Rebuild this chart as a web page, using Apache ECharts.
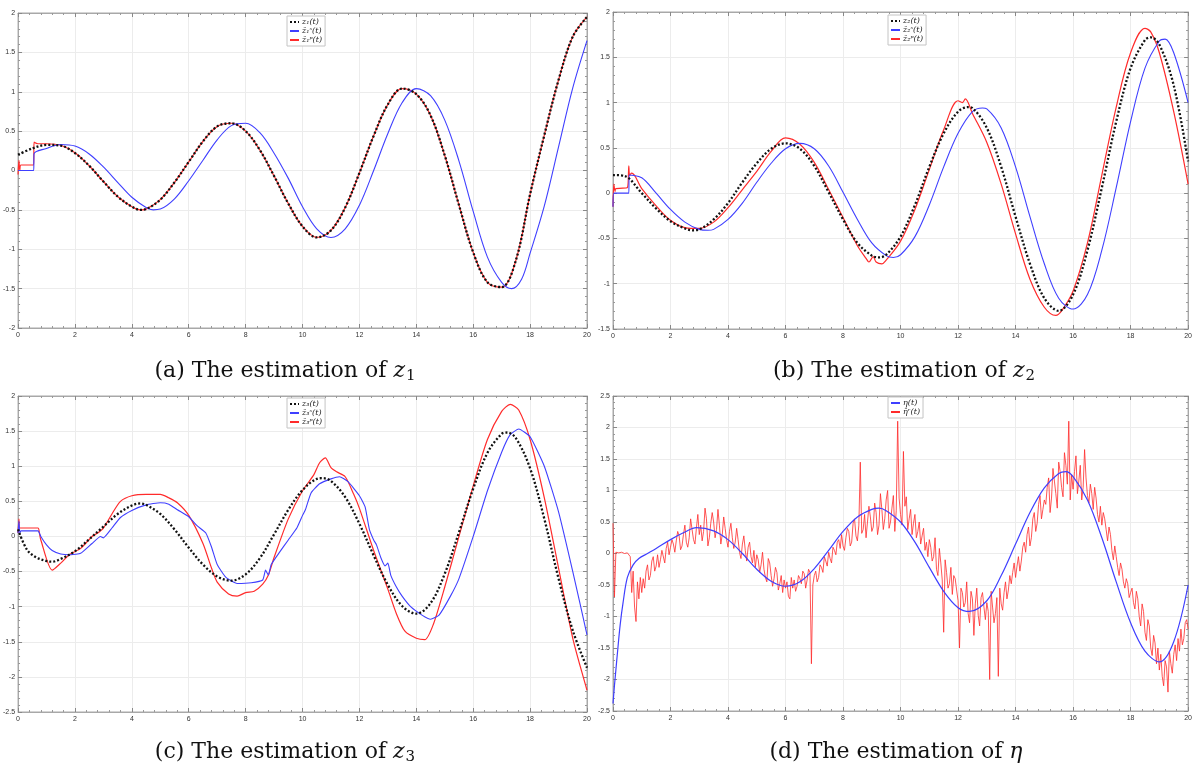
<!DOCTYPE html>
<html>
<head>
<meta charset="utf-8">
<script src="https://cdn.jsdelivr.net/npm/echarts@6/dist/echarts.min.js"></script>
<style>
  html, body { margin: 0; padding: 0; background: #fff; }
  #chart { width: 1195px; height: 764px; }
</style>
</head>
<body>
<div id="chart"></div>
<script>
// ---- (a) z1 and its two estimates: [t, value] ----
const z1 = [[0,0.2],[0.5,0.28],[1,0.325],[1.5,0.316],[2,0.222],[2.5,0.06],[3,-0.14],[3.5,-0.33],[4,-0.46],[4.3,-0.5],[4.5,-0.49],[5,-0.37],[5.5,-0.15],[6,0.11],[6.5,0.37],[7,0.56],[7.5,0.6],[8,0.5],[8.5,0.26],[9,-0.07],[9.5,-0.42],[10,-0.71],[10.5,-0.85],[11,-0.76],[11.5,-0.47],[12,-0.03],[12.5,0.44],[13,0.84],[13.5,1.04],[14,0.97],[14.5,0.7],[15,0.19],[15.5,-0.44],[16,-1.04],[16.5,-1.42],[17,-1.48],[17.5,-1.14],[18,-0.3],[18.5,0.45],[19,1.15],[19.5,1.7],[20,1.95]];
const z1EstS = [[0,0],[0.55,0],[0.56,0.21],[1,0.28],[1.5,0.33],[2,0.31],[2.5,0.21],[3,0.045],[3.5,-0.15],[4,-0.34],[4.5,-0.47],[4.75,-0.5],[5,-0.49],[5.5,-0.36],[6,-0.13],[6.5,0.13],[7,0.39],[7.5,0.57],[8,0.6],[8.5,0.48],[9,0.22],[9.5,-0.1],[10,-0.46],[10.5,-0.74],[11,-0.85],[11.5,-0.74],[12,-0.44],[12.5,0.0],[13,0.47],[13.5,0.86],[14,1.04],[14.5,0.95],[15,0.64],[15.5,0.12],[16,-0.52],[16.5,-1.1],[17,-1.42],[17.35,-1.5],[17.7,-1.38],[18,-1.05],[18.5,-0.45],[19,0.3],[19.5,1.05],[20,1.65]];
const z1EstP = [[0,-0.05],[0.03,0.13],[0.06,0.0],[0.1,0.07],[0.55,0.07],[0.56,0.36],[0.7,0.34],[1,0.34],[1.5,0.32],[2,0.225],[2.5,0.06],[3,-0.14],[3.5,-0.33],[4,-0.46],[4.3,-0.5],[4.5,-0.49],[5,-0.37],[5.5,-0.15],[6,0.11],[6.5,0.37],[7,0.56],[7.5,0.6],[8,0.5],[8.5,0.26],[9,-0.07],[9.5,-0.42],[10,-0.71],[10.5,-0.85],[11,-0.76],[11.5,-0.47],[12,-0.03],[12.5,0.44],[13,0.84],[13.5,1.04],[14,0.97],[14.5,0.7],[15,0.19],[15.5,-0.44],[16,-1.04],[16.5,-1.42],[17,-1.48],[17.5,-1.14],[18,-0.3],[18.5,0.45],[19,1.15],[19.5,1.7],[20,1.95]];

// ---- (b) z2 ----
const z2 = [[0,0.2],[0.4,0.19],[1,0.0],[1.5,-0.17],[2,-0.31],[2.5,-0.39],[2.75,-0.41],[3,-0.40],[3.5,-0.29],[4,-0.11],[4.5,0.12],[5,0.33],[5.5,0.49],[6,0.55],[6.5,0.49],[7,0.3],[7.5,0.01],[8,-0.29],[8.5,-0.55],[9,-0.69],[9.25,-0.71],[9.5,-0.68],[10,-0.48],[10.5,-0.13],[11,0.29],[11.5,0.66],[12,0.9],[12.35,0.95],[12.5,0.94],[13,0.72],[13.5,0.29],[14,-0.26],[14.5,-0.78],[15,-1.16],[15.5,-1.3],[16,-1.12],[16.5,-0.63],[17,0.06],[17.5,0.79],[18,1.38],[18.5,1.69],[18.7,1.72],[19,1.64],[19.5,1.19],[20,0.35]];
const z2EstS = [[0,-0.15],[0.03,0],[0.55,0],[0.56,0.2],[1,0.17],[1.5,0.0],[2,-0.18],[2.5,-0.32],[3,-0.40],[3.3,-0.41],[3.5,-0.40],[4,-0.29],[4.5,-0.11],[5,0.12],[5.5,0.33],[6,0.49],[6.5,0.55],[7,0.49],[7.5,0.3],[8,0.01],[8.5,-0.29],[9,-0.55],[9.5,-0.69],[9.75,-0.71],[10,-0.68],[10.5,-0.48],[11,-0.13],[11.5,0.29],[12,0.66],[12.5,0.9],[12.85,0.94],[13,0.93],[13.5,0.72],[14,0.29],[14.5,-0.26],[15,-0.78],[15.5,-1.16],[16,-1.28],[16.5,-1.12],[17,-0.63],[17.5,0.06],[18,0.79],[18.5,1.38],[19,1.68],[19.2,1.7],[19.5,1.55],[20,1.0]];
const z2EstP = [[0,-0.15],[0.03,0.1],[0.07,0.02],[0.1,0.05],[0.5,0.06],[0.55,0.3],[0.58,0.2],[0.65,0.22],[1,0.05],[1.5,-0.14],[2,-0.3],[2.5,-0.38],[3,-0.39],[3.5,-0.32],[4,-0.16],[4.5,0.04],[5,0.24],[5.5,0.46],[6,0.61],[6.5,0.54],[7,0.34],[7.5,0.04],[8,-0.27],[8.5,-0.58],[8.8,-0.72],[8.9,-0.76],[9.05,-0.7],[9.15,-0.76],[9.35,-0.78],[9.5,-0.74],[10,-0.53],[10.5,-0.18],[11,0.26],[11.5,0.7],[12,1.02],[12.15,1.0],[12.25,1.04],[12.5,0.88],[13,0.56],[13.5,0.1],[14,-0.45],[14.5,-0.95],[15,-1.26],[15.4,-1.35],[15.6,-1.3],[16,-1.08],[16.5,-0.55],[17,0.2],[17.5,0.95],[18,1.55],[18.5,1.82],[18.7,1.78],[19,1.55],[19.5,0.9],[20,0.1]];

// ---- (c) z3 ----
const z3 = [[0,0.1],[0.3,-0.18],[0.6,-0.29],[1,-0.35],[1.2,-0.36],[1.5,-0.32],[2,-0.21],[2.5,-0.04],[3,0.14],[3.5,0.32],[4,0.44],[4.3,0.47],[4.5,0.45],[5,0.32],[5.5,0.1],[6,-0.16],[6.5,-0.4],[7,-0.57],[7.5,-0.63],[8,-0.54],[8.5,-0.31],[9,0.03],[9.5,0.38],[10,0.66],[10.5,0.82],[10.7,0.83],[11,0.79],[11.5,0.56],[12,0.18],[12.5,-0.27],[13,-0.69],[13.5,-0.99],[14,-1.1],[14.5,-0.95],[15,-0.53],[15.5,0.06],[16,0.68],[16.5,1.19],[17,1.46],[17.2,1.48],[17.5,1.4],[18,0.97],[18.5,0.25],[19,-0.6],[19.5,-1.34],[20,-1.87]];
const z3EstS = [[0,0.05],[0.03,0.22],[0.06,0.05],[0.1,0.08],[0.7,0.08],[0.8,0.0],[1.0,-0.12],[1.2,-0.2],[1.5,-0.25],[1.86,-0.26],[2.2,-0.24],[2.6,-0.1],[2.9,0.0],[3.0,-0.02],[3.3,0.12],[3.6,0.27],[4,0.37],[4.5,0.45],[5,0.48],[5.3,0.46],[5.6,0.38],[6,0.28],[6.3,0.15],[6.6,0.05],[6.8,-0.15],[7.0,-0.4],[7.3,-0.58],[7.7,-0.67],[8.2,-0.66],[8.6,-0.62],[8.7,-0.48],[8.8,-0.55],[8.9,-0.4],[9.2,-0.22],[9.5,-0.05],[9.8,0.12],[10.0,0.3],[10.1,0.38],[10.3,0.62],[10.6,0.75],[11.0,0.82],[11.3,0.85],[11.6,0.78],[12.0,0.58],[12.2,0.42],[12.35,0.1],[12.5,-0.05],[12.6,-0.12],[12.75,-0.3],[12.9,-0.42],[13.0,-0.38],[13.1,-0.55],[13.3,-0.72],[13.5,-0.85],[13.8,-1.0],[14.2,-1.12],[14.5,-1.18],[14.8,-1.12],[15.2,-0.85],[15.5,-0.6],[16,0.0],[16.5,0.65],[17,1.2],[17.3,1.45],[17.6,1.53],[18,1.42],[18.5,1.0],[19,0.35],[19.5,-0.5],[20,-1.4]];
const z3EstP = [[0,0.05],[0.03,0.25],[0.06,0.12],[0.7,0.12],[0.75,0.05],[0.8,-0.05],[1.2,-0.48],[1.5,-0.38],[1.8,-0.26],[2.2,-0.17],[2.6,0.0],[2.8,0.05],[3.0,0.12],[3.3,0.32],[3.6,0.5],[4,0.58],[4.5,0.6],[5,0.6],[5.3,0.55],[5.6,0.48],[6,0.3],[6.5,-0.1],[6.8,-0.45],[7.0,-0.65],[7.4,-0.82],[7.7,-0.85],[8.0,-0.8],[8.3,-0.78],[8.6,-0.68],[8.8,-0.55],[9.0,-0.3],[9.5,0.25],[10,0.65],[10.4,0.88],[10.6,1.05],[10.8,1.12],[11.0,0.98],[11.2,0.92],[11.5,0.85],[11.8,0.6],[12,0.4],[12.5,-0.2],[13,-0.75],[13.3,-1.1],[13.6,-1.35],[14,-1.45],[14.3,-1.47],[14.6,-1.25],[15,-0.72],[15.5,0.0],[16,0.72],[16.5,1.38],[17,1.78],[17.3,1.88],[17.6,1.8],[18,1.38],[18.5,0.55],[19,-0.45],[19.5,-1.45],[20,-2.19]];

// ---- (d) eta and its noisy estimate ----
const eta = [[0,-2.38],[0.05,-2.1],[0.1,-1.85],[0.15,-1.6],[0.25,-1.13],[0.35,-0.78],[0.5,-0.38],[0.7,-0.18],[0.9,-0.08],[1.2,0.0],[1.5,0.08],[2,0.22],[2.5,0.34],[2.9,0.41],[3.5,0.36],[4,0.22],[4.5,0.0],[5,-0.25],[5.5,-0.44],[6,-0.52],[6.5,-0.45],[7,-0.24],[7.5,0.05],[8,0.35],[8.5,0.58],[9,0.7],[9.25,0.72],[9.5,0.68],[10,0.5],[10.5,0.18],[11,-0.22],[11.5,-0.6],[12,-0.86],[12.4,-0.92],[13,-0.75],[13.5,-0.35],[14,0.15],[14.5,0.65],[15,1.04],[15.5,1.27],[15.75,1.3],[16,1.22],[16.5,0.85],[17,0.25],[17.5,-0.45],[18,-1.1],[18.5,-1.55],[19,-1.72],[19.5,-1.4],[20,-0.5]];
const etaHatStep = 0.05;
const etaHat = [
  0.48,-0.69,0.02,0.00,0.01,0.00,0.02,0.01,0.00,0.02,0.01,0.02,-0.05,-0.62,-0.28,-0.85,-1.08,-0.45,-0.72,-0.38,
  -0.62,-0.40,-0.55,-0.28,-0.18,-0.42,-0.35,-0.12,-0.05,-0.28,-0.20,-0.02,-0.22,-0.10,0.05,0.02,-0.15,0.08,0.18,-0.02,
  0.10,0.22,0.15,0.02,0.20,0.35,0.28,0.06,0.12,0.30,0.45,0.18,0.10,0.25,0.55,0.38,0.22,0.15,0.40,0.62,
  0.30,0.45,0.20,0.35,0.72,0.55,0.12,0.25,0.48,0.65,0.50,0.25,0.38,0.70,0.45,0.15,0.30,0.58,0.40,0.22,
  0.10,0.35,0.48,0.25,0.08,0.18,0.40,0.22,0.02,-0.08,0.15,0.28,0.05,-0.12,0.10,0.18,-0.05,-0.15,0.05,-0.22,
  -0.02,-0.10,-0.30,-0.18,0.02,-0.25,-0.38,-0.45,-0.08,-0.15,-0.35,-0.52,-0.40,-0.22,-0.30,-0.58,-0.48,-0.35,-0.62,-0.42,
  -0.55,-0.45,-0.68,-0.72,-0.38,-0.55,-0.42,-0.60,-0.52,-0.35,-0.40,-0.48,-0.28,-0.32,-0.55,-0.42,-0.25,-0.30,-1.75,-0.50,
  -0.35,-0.28,-0.45,-0.38,-0.18,-0.22,-0.30,-0.05,-0.12,-0.20,0.02,-0.08,-0.15,0.10,0.05,-0.02,0.18,0.22,0.08,0.30,
  0.12,0.05,0.25,0.40,0.35,0.12,0.18,0.48,0.55,0.28,0.20,0.45,1.45,0.32,0.38,0.62,0.25,0.50,0.75,0.58,
  0.35,0.42,0.80,0.65,0.30,0.45,0.95,0.70,0.38,0.55,0.85,1.00,0.40,0.50,0.72,0.92,0.35,0.68,2.10,0.88,
  0.62,0.45,1.62,0.75,0.90,0.38,0.55,0.70,0.30,0.48,0.62,0.25,0.35,0.50,0.15,0.28,0.40,0.05,0.18,-0.05,
  0.22,0.10,-0.12,-0.05,0.25,-0.25,-0.35,0.08,-0.15,-0.42,-1.25,-0.10,-0.30,-0.55,-0.48,-0.22,-0.65,-0.35,-0.40,-0.58,
  -0.75,-1.50,-0.55,-0.62,-0.85,-0.78,-0.45,-0.95,-1.10,-0.60,-0.72,-1.30,-0.80,-0.55,-0.98,-1.15,-0.70,-0.62,-0.85,-1.05,
  -0.78,-0.92,-2.00,-0.60,-0.85,-1.10,-0.95,-0.70,-1.95,-0.55,-0.80,-0.90,-0.62,-0.45,-0.72,-0.58,-0.35,-0.48,-0.30,-0.15,
  -0.38,-0.20,-0.05,-0.28,-0.12,0.10,0.18,0.02,0.30,0.42,0.12,0.25,0.55,0.65,0.35,0.48,0.78,0.92,0.55,0.70,
  0.85,0.78,1.05,1.20,0.65,0.88,1.35,1.15,0.95,0.72,1.45,1.30,1.05,0.90,1.60,1.40,1.10,2.10,0.85,1.25,
  1.02,1.30,1.55,0.95,1.15,1.40,0.85,1.05,1.65,1.20,0.92,0.80,1.10,0.95,0.70,1.05,0.88,0.62,0.50,0.75,
  0.45,0.65,0.55,0.38,0.20,0.42,0.30,0.05,-0.10,0.12,-0.05,-0.22,-0.35,-0.15,-0.25,-0.45,-0.55,-0.40,-0.48,-0.70,
  -0.62,-0.55,-0.78,-0.88,-0.60,-0.72,-1.00,-1.15,-0.80,-0.92,-1.25,-1.38,-1.05,-1.15,-1.50,-1.62,-1.30,-1.42,-1.75,-1.50,
  -1.85,-1.60,-1.95,-2.10,-1.70,-1.80,-2.20,-1.55,-1.75,-1.90,-1.60,-1.45,-1.70,-1.35,-1.55,-1.20,-1.45,-1.35,-1.10,-1.05,
  -1.20
];

// ---- axis ranges, legend names and captions per panel ----
const yRanges = [[-2, 2], [-1.5, 2], [-2.5, 2], [-2.5, 2.5]];
const legendNames = [
  ['z\u2081(t)', '\u1e91\u2081\u02e2(t)', '\u1e91\u2081\u1d56(t)'],
  ['z\u2082(t)', '\u1e91\u2082\u02e2(t)', '\u1e91\u2082\u1d56(t)'],
  ['z\u2083(t)', '\u1e91\u2083\u02e2(t)', '\u1e91\u2083\u1d56(t)'],
  ['\u03b7(t)', '\u03b7\u0302\u02b3(t)']
];
const captions = [
  '(a) The estimation of {i|z}{s|1}',
  '(b) The estimation of {i|z}{s|2}',
  '(c) The estimation of {i|z}{s|3}',
  '(d) The estimation of {i|\u03b7}'
];

const grids = [
  { left: 15, top: 13, width: 572, height: 315 },
  { left: 613, top: 12, width: 577, height: 317 },
  { left: 15, top: 396, width: 572, height: 316 },
  { left: 613, top: 396, width: 577, height: 315 }
];
const legendPos = [
  { left: 287, top: 16 }, { left: 888, top: 15 },
  { left: 287, top: 398 }, { left: 888, top: 397 }
];
const captionPos = [[285, 371], [904, 371], [285, 752], [896, 752]];

const BLACK = '#111111', BLUE = '#3f3fff', RED = '#ff2b2b';
const frame = '#a8a8a8';

function xAxisFor(i, top) {
  return {
    type: 'value', gridIndex: i, min: 0, max: 20, interval: 2,
    position: top ? 'top' : 'bottom',
    axisLine: { show: true, onZero: false, lineStyle: { color: frame, width: 1 } },
    axisTick: { show: true, inside: true, length: 4, lineStyle: { color: '#888' } },
    minorTick: { show: true, splitNumber: 5, length: 2, lineStyle: { color: '#999' } },
    splitLine: { show: !top, lineStyle: { color: '#ececec', width: 1 } },
    axisLabel: { show: !top, fontSize: 7, color: '#333', margin: 4, fontFamily: 'Liberation Sans' }
  };
}
function yAxisFor(i, right) {
  const r = yRanges[i];
  return {
    type: 'value', gridIndex: i, min: r[0], max: r[1], interval: 0.5,
    position: right ? 'right' : 'left',
    axisLine: { show: true, onZero: false, lineStyle: { color: frame, width: 1 } },
    axisTick: { show: true, inside: true, length: 4, lineStyle: { color: '#888' } },
    minorTick: { show: true, splitNumber: 5, length: 2, lineStyle: { color: '#999' } },
    splitLine: { show: !right, lineStyle: { color: '#ececec', width: 1 } },
    axisLabel: { show: !right, fontSize: 7, color: '#333', margin: 3, fontFamily: 'Liberation Sans' }
  };
}

function line(name, data, i, color, width, dashed, z, smooth) {
  return {
    type: 'line', name: name, data: data, xAxisIndex: i, yAxisIndex: i,
    showSymbol: false, symbol: 'none', smooth: smooth, z: z,
    lineStyle: { color: color, width: width, type: dashed ? [2, 2] : 'solid' },
    itemStyle: { color: color }, emphasis: { disabled: true }
  };
}

const etaHatPts = etaHat.map((v, k) => [+(k * etaHatStep).toFixed(2), v]);

const series = [
  line(legendNames[0][2], z1EstP, 0, RED, 1.2, false, 2, 0.35),
  line(legendNames[0][1], z1EstS, 0, BLUE, 1.1, false, 3, 0.35),
  line(legendNames[0][0], z1, 0, BLACK, 2.3, true, 4, 0.35),
  line(legendNames[1][2], z2EstP, 1, RED, 1.2, false, 2, 0.35),
  line(legendNames[1][1], z2EstS, 1, BLUE, 1.1, false, 3, 0.35),
  line(legendNames[1][0], z2, 1, BLACK, 2.3, true, 4, 0.35),
  line(legendNames[2][2], z3EstP, 2, RED, 1.2, false, 2, 0.25),
  line(legendNames[2][1], z3EstS, 2, BLUE, 1.1, false, 3, 0.15),
  line(legendNames[2][0], z3, 2, BLACK, 2.3, true, 4, 0.35),
  line(legendNames[3][1], etaHatPts, 3, RED, 0.8, false, 2, false),
  line(legendNames[3][0], eta, 3, BLUE, 1.2, false, 3, 0.35)
];

const legends = legendNames.map((names, i) => ({
  data: names, orient: 'vertical', left: legendPos[i].left, top: legendPos[i].top,
  itemWidth: 9, itemHeight: 6, itemGap: 1, padding: [2, 3, 2, 2],
  borderColor: '#c4c4c4', borderWidth: 1, backgroundColor: '#fff',
  selectedMode: false,
  itemStyle: { opacity: 0 },
  textStyle: { fontSize: 8, fontFamily: 'DejaVu Serif', fontStyle: 'italic', color: '#222', padding: [0, 0, 0, -2] }
}));

const graphics = captions.map((c, i) => ({
  type: 'text', x: captionPos[i][0], y: captionPos[i][1], silent: true,
  style: {
    text: c, align: 'center', verticalAlign: 'middle',
    fontFamily: 'DejaVu Serif', fontSize: 22, fill: '#111',
    rich: {
      i: { fontFamily: 'DejaVu Serif', fontSize: 22, fontStyle: 'italic', fill: '#111' },
      s: { fontFamily: 'DejaVu Serif', fontSize: 15, fill: '#111', padding: [10, 0, 0, 1] }
    }
  }
}));

const chart = echarts.init(document.getElementById('chart'), null, { renderer: 'canvas' });
chart.setOption({
  animation: false,
  backgroundColor: '#ffffff',
  grid: grids.map(g => Object.assign({ containLabel: false, show: true, borderColor: frame, backgroundColor: '#fff' }, g)),
  xAxis: [0, 1, 2, 3].map(i => xAxisFor(i, false)).concat([0, 1, 2, 3].map(i => xAxisFor(i, true))),
  yAxis: [0, 1, 2, 3].map(i => yAxisFor(i, false)).concat([0, 1, 2, 3].map(i => yAxisFor(i, true))),
  legend: legends,
  series: series,
  graphic: graphics
});
</script>
</body>
</html>
